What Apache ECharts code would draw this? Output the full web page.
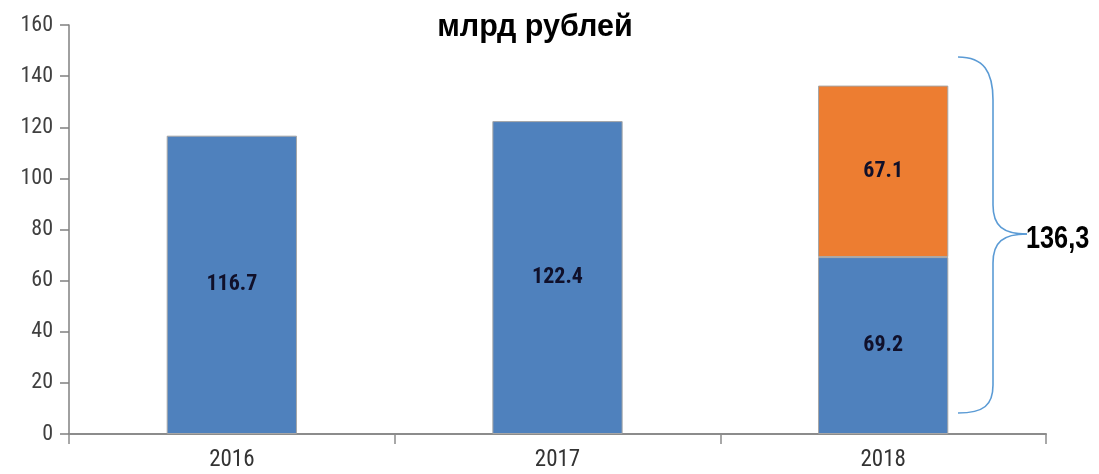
<!DOCTYPE html>
<html>
<head>
<meta charset="utf-8">
<script src="https://cdn.jsdelivr.net/npm/echarts@6/dist/echarts.min.js"></script>
<style>
html,body{margin:0;padding:0;background:#fff;}
#main{width:1099px;height:474px;}
</style>
</head>
<body>
<div id="main"></div>
<script>
const title = 'млрд рублей';
const categories = ['2016', '2017', '2018'];
const seriesBase = [116.7, 122.4, 69.2];
const seriesExtra = [null, null, 67.1];
const yTicks = [0, 20, 40, 60, 80, 100, 120, 140, 160];

const total2018 = (seriesBase[2] + seriesExtra[2]).toFixed(1).replace('.', ',');

const chart = echarts.init(document.getElementById('main'));
const labelStyle = {
  show: true,
  position: 'inside',
  color: '#10102a',
  fontFamily: 'Roboto Condensed, Liberation Sans, sans-serif',
  fontWeight: 'bold',
  fontSize: 22,
  formatter: p => p.value == null ? '' : Number(p.value).toFixed(1)
};
const braceStyle = {fill: 'none', stroke: '#5b9bd5', lineWidth: 1.6};
chart.setOption({
  animation: false,
  backgroundColor: '#ffffff',
  title: {
    text: title,
    left: 530,
    textAlign: 'center',
    top: 7,
    textStyle: {fontFamily: 'Liberation Sans, Arial, sans-serif', fontWeight: 'bold', fontSize: 30.5, color: '#000'}
  },
  grid: {left: 69, right: 53, top: 25, bottom: 40},
  xAxis: {
    type: 'category',
    data: categories,
    boundaryGap: true,
    axisLine: {lineStyle: {color: '#8c8c8c', width: 2}},
    axisTick: {show: true, length: 10, lineStyle: {color: '#8c8c8c', width: 1.5}},
    axisLabel: {margin: 15, color: '#333', fontFamily: 'Roboto Condensed, Liberation Sans, sans-serif', fontSize: 23}
  },
  yAxis: {
    type: 'value',
    min: yTicks[0],
    max: yTicks[yTicks.length - 1],
    interval: yTicks[1] - yTicks[0],
    axisLine: {show: true, lineStyle: {color: '#808080', width: 1.5}},
    axisTick: {show: true, length: 9, lineStyle: {color: '#808080', width: 1.5}},
    splitLine: {show: false},
    axisLabel: {margin: 16, color: '#404040', fontFamily: 'Roboto Condensed, Liberation Sans, sans-serif', fontSize: 22}
  },
  series: [
    {
      type: 'bar', stack: 'total', data: seriesBase, barWidth: '40%',
      itemStyle: {color: '#4f81bd', borderColor: '#a6a6a6', borderWidth: 1},
      label: labelStyle
    },
    {
      type: 'bar', stack: 'total', data: seriesExtra, barWidth: '40%',
      itemStyle: {color: '#ed7d31', borderColor: '#a6a6a6', borderWidth: 1},
      label: labelStyle
    }
  ],
  graphic: [
    {type: 'bezierCurve', shape: {x1: 958, y1: 57, cpx1: 984, cpy1: 57, cpx2: 993, cpy2: 72, x2: 993, y2: 100}, style: braceStyle},
    {type: 'line', shape: {x1: 993, y1: 100, x2: 993, y2: 205}, style: braceStyle},
    {type: 'bezierCurve', shape: {x1: 993, y1: 205, cpx1: 993, cpy1: 226, cpx2: 1003, cpy2: 234, x2: 1027, y2: 234}, style: braceStyle},
    {type: 'bezierCurve', shape: {x1: 1027, y1: 234, cpx1: 1003, cpy1: 234, cpx2: 993, cpy2: 242, x2: 993, y2: 263}, style: braceStyle},
    {type: 'line', shape: {x1: 993, y1: 263, x2: 993, y2: 385}, style: braceStyle},
    {type: 'bezierCurve', shape: {x1: 993, y1: 385, cpx1: 993, cpy1: 405, cpx2: 984, cpy2: 413, x2: 958, y2: 413},
     style: braceStyle},
    {
      type: 'text',
      x: 1026,
      y: 239,
      scaleX: 0.79,
      style: {text: total2018, font: 'bold 32px "Liberation Sans", Arial, sans-serif', fill: '#000', verticalAlign: 'middle'}
    }
  ]
});
</script>
</body>
</html>
